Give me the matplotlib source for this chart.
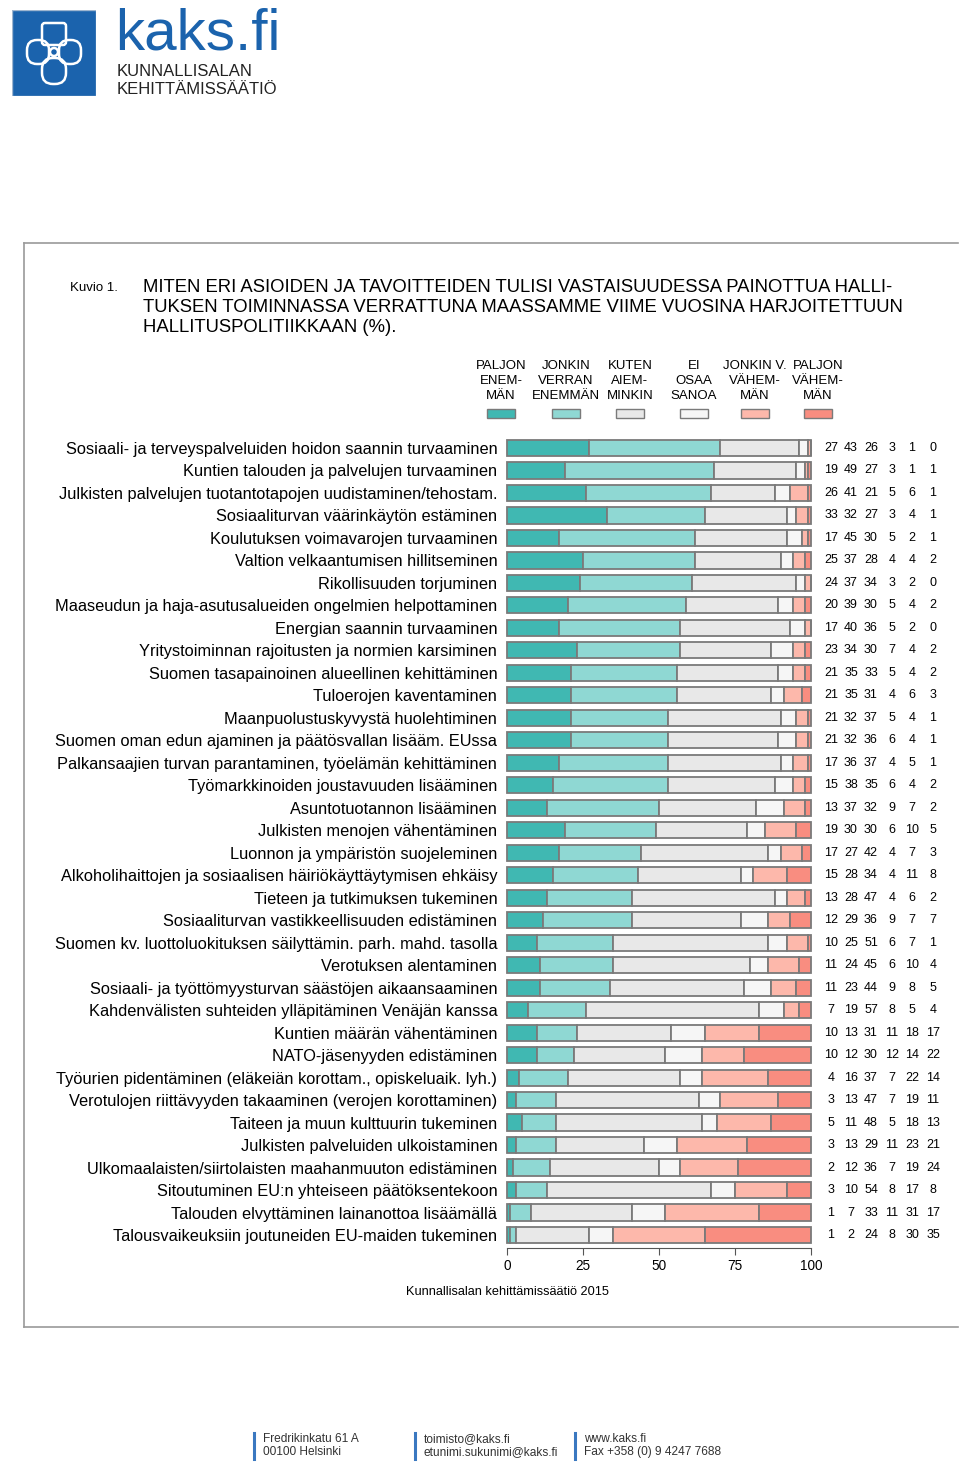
import numpy as np
import matplotlib
matplotlib.use("Agg")
from matplotlib import pyplot as plt
from matplotlib import font_manager
from matplotlib.patches import Rectangle, FancyBboxPatch, Circle
from matplotlib.lines import Line2D

# ---- data ----
categories = [
    "Sosiaali- ja terveyspalveluiden hoidon saannin turvaaminen",
    "Kuntien talouden ja palvelujen turvaaminen",
    "Julkisten palvelujen tuotantotapojen uudistaminen/tehostam.",
    "Sosiaaliturvan väärinkäytön estäminen",
    "Koulutuksen voimavarojen turvaaminen",
    "Valtion velkaantumisen hillitseminen",
    "Rikollisuuden torjuminen",
    "Maaseudun ja haja-asutusalueiden ongelmien helpottaminen",
    "Energian saannin turvaaminen",
    "Yritystoiminnan rajoitusten ja normien karsiminen",
    "Suomen tasapainoinen alueellinen kehittäminen",
    "Tuloerojen kaventaminen",
    "Maanpuolustuskyvystä huolehtiminen",
    "Suomen oman edun ajaminen ja päätösvallan lisääm. EUssa",
    "Palkansaajien turvan parantaminen, työelämän kehittäminen",
    "Työmarkkinoiden joustavuuden lisääminen",
    "Asuntotuotannon lisääminen",
    "Julkisten menojen vähentäminen",
    "Luonnon ja ympäristön suojeleminen",
    "Alkoholihaittojen ja sosiaalisen häiriökäyttäytymisen ehkäisy",
    "Tieteen ja tutkimuksen tukeminen",
    "Sosiaaliturvan vastikkeellisuuden edistäminen",
    "Suomen kv. luottoluokituksen säilyttämin. parh. mahd. tasolla",
    "Verotuksen alentaminen",
    "Sosiaali- ja työttömyysturvan säästöjen aikaansaaminen",
    "Kahdenvälisten suhteiden ylläpitäminen Venäjän kanssa",
    "Kuntien määrän vähentäminen",
    "NATO-jäsenyyden edistäminen",
    "Työurien pidentäminen (eläkeiän korottam., opiskeluaik. lyh.)",
    "Verotulojen riittävyyden takaaminen (verojen korottaminen)",
    "Taiteen ja muun kulttuurin tukeminen",
    "Julkisten palveluiden ulkoistaminen",
    "Ulkomaalaisten/siirtolaisten maahanmuuton edistäminen",
    "Sitoutuminen EU:n yhteiseen päätöksentekoon",
    "Talouden elvyttäminen lainanottoa lisäämällä",
    "Talousvaikeuksiin joutuneiden EU-maiden tukeminen",
]
paljon_enemman = [27, 19, 26, 33, 17, 25, 24, 20, 17, 23, 21, 21, 21, 21, 17, 15, 13, 19,
                  17, 15, 13, 12, 10, 11, 11, 7, 10, 10, 4, 3, 5, 3, 2, 3, 1, 1]
jonkin_enemman = [43, 49, 41, 32, 45, 37, 37, 39, 40, 34, 35, 35, 32, 32, 36, 38, 37, 30,
                  27, 28, 28, 29, 25, 24, 23, 19, 13, 12, 16, 13, 11, 13, 12, 10, 7, 2]
kuten_aiemmin = [26, 27, 21, 27, 30, 28, 34, 30, 36, 30, 33, 31, 37, 36, 37, 35, 32, 30,
                 42, 34, 47, 36, 51, 45, 44, 57, 31, 30, 37, 47, 48, 29, 36, 54, 33, 24]
ei_osaa = [3, 3, 5, 3, 5, 4, 3, 5, 5, 7, 5, 4, 5, 6, 4, 6, 9, 6,
           4, 4, 4, 9, 6, 6, 9, 8, 11, 12, 7, 7, 5, 11, 7, 8, 11, 8]
jonkin_vahemman = [1, 1, 6, 4, 2, 4, 2, 4, 2, 4, 4, 6, 4, 4, 5, 4, 7, 10,
                   7, 11, 6, 7, 7, 10, 8, 5, 18, 14, 22, 19, 18, 23, 19, 17, 31, 30]
paljon_vahemman = [0, 1, 1, 1, 1, 2, 0, 2, 0, 2, 2, 3, 1, 1, 1, 2, 2, 5,
                   3, 8, 2, 7, 1, 4, 5, 4, 17, 22, 14, 11, 13, 21, 24, 8, 17, 35]

series = [paljon_enemman, jonkin_enemman, kuten_aiemmin, ei_osaa, jonkin_vahemman, paljon_vahemman]
legend_labels = ["PALJON\nENEM-\nMÄN", "JONKIN\nVERRAN\nENEMMÄN", "KUTEN\nAIEM-\nMINKIN",
                 "EI\nOSAA\nSANOA", "JONKIN V.\nVÄHEM-\nMÄN", "PALJON\nVÄHEM-\nMÄN"]
colors = ["#40b8b2", "#8fd8d3", "#e8e8e8", "#f6f6f6", "#fdb8ab", "#f98d80"]
edge = "#7a7a7a"

W, H = 960, 1467
plt.rcParams['font.family'] = ['Liberation Sans', 'DejaVu Sans']
names = set(f.name for f in font_manager.fontManager.ttflist)
narrow = 'Liberation Sans Narrow' if 'Liberation Sans Narrow' in names else 'Liberation Sans'

fig = plt.figure(figsize=(W / 100, H / 100), dpi=100)


def fx(x):
    return x / W


def fy(y):
    return 1 - y / H


def ptext(x, y, s, **kw):
    fig.text(fx(x), fy(y), s, **kw)


# ---- frame ----
frame_col = "#9a9a9a"
for (x0, y0, x1, y1) in [(24, 243, 958, 243), (24, 243, 24, 1327), (24, 1327, 958, 1327)]:
    fig.add_artist(Line2D([fx(x0), fx(x1)], [fy(y0), fy(y1)], color=frame_col, lw=1.2))

# ---- title ----
ptext(70, 288, "Kuvio 1.", fontsize=9.5, family=narrow, va="center")
title_lines = ["MITEN ERI ASIOIDEN JA TAVOITTEIDEN TULISI VASTAISUUDESSA PAINOTTUA HALLI-",
               "TUKSEN TOIMINNASSA VERRATTUNA MAASSAMME VIIME VUOSINA HARJOITETTUUN",
               "HALLITUSPOLITIIKKAAN (%)."]
for i, t in enumerate(title_lines):
    ptext(143, 287 + i * 20.5, t, fontsize=13.3, family=narrow, va="center")

# ---- main bar axes ----
row_top, row_step = 448, (1235 - 448) / 35
n = len(categories)
ax_top = row_top - row_step / 2
ax_bot = row_top + (n - 1) * row_step + row_step / 2
ax = fig.add_axes([fx(507), fy(ax_bot), (811 - 507) / W, (ax_bot - ax_top) / H])
y = np.arange(n)
left = np.zeros(n)
for vals, c in zip(series, colors):
    vals = np.array(vals, dtype=float)
    ax.barh(y, vals, left=left, height=0.72, color=c, edgecolor=edge, linewidth=1.3, clip_on=False)
    left += vals
ax.set_xlim(0, 100)
ax.set_ylim(n - 0.5, -0.5)
ax.set_yticks(y)
ax.set_yticklabels(categories, fontsize=11.8)
ax.tick_params(axis="y", length=0, pad=7)
ax.set_xticks([0, 25, 50, 75, 100])
ax.tick_params(axis="x", labelsize=9.8, length=5, color="#555555", pad=3)
for s in ["top", "right", "left"]:
    ax.spines[s].set_visible(False)
ax.spines["bottom"].set_color("#555555")
ax.spines["bottom"].set_position(("outward", 1))
ax.patch.set_alpha(0)

# value columns on right
col_x = [831, 851, 871, 892, 912, 933]
for i in range(n):
    for j, vals in enumerate(series):
        ptext(col_x[j], row_top + i * row_step, str(vals[i]), fontsize=9,
              ha="center", va="center")

# ---- legend ----
leg_x = [501, 566, 630, 694, 755, 818]
for lx, lab, c in zip(leg_x, legend_labels, colors):
    ptext(lx, 381, lab, fontsize=9.5, ha="center", va="center", linespacing=1.32, family=narrow)
    fig.add_artist(Rectangle((fx(lx - 14), fy(418)), 28 / W, 9 / H, facecolor=c,
                             edgecolor=edge, lw=1.0, transform=fig.transFigure))

ptext(508, 1292, "Kunnallisalan kehittämissäätiö 2015", fontsize=9.2, ha="center", va="center")

# ---- logo ----
blue = "#1b63ad"
lax = fig.add_axes([fx(12), fy(96), 84 / W, 86 / H])
lax.set_xlim(0, 84)
lax.set_ylim(86, 0)
lax.axis("off")
lax.add_patch(Rectangle((0, 0), 84, 86, facecolor=blue, edgecolor="#9fb6d0", lw=1))
wk = dict(facecolor="none", edgecolor="white", lw=1.8)
lax.add_patch(FancyBboxPatch((30, 13), 24, 22, boxstyle="round,pad=0,rounding_size=3", **wk))
lax.add_patch(FancyBboxPatch((15, 30), 22, 24, boxstyle="round,pad=0,rounding_size=10", **wk))
lax.add_patch(FancyBboxPatch((47, 30), 22, 24, boxstyle="round,pad=0,rounding_size=10", **wk))
lax.add_patch(FancyBboxPatch((30, 48), 24, 26, boxstyle="round,pad=0,rounding_size=11", **wk))
lax.add_patch(Circle((42, 42), 4, **wk))

ptext(115, 35, "kaks.fi", fontsize=42, color=blue, va="center", family=narrow)
ptext(117, 72, "KUNNALLISALAN", fontsize=12, color="#222222", va="center", family=narrow)
ptext(117, 89, "KEHITTÄMISSÄÄTIÖ", fontsize=12, color="#222222", va="center", family=narrow)

# ---- footer ----
foot = [(254, "Fredrikinkatu 61 A", "00100 Helsinki"),
        (415, "toimisto@kaks.fi", "etunimi.sukunimi@kaks.fi"),
        (575, "www.kaks.fi", "Fax +358 (0) 9 4247 7688")]
for fx0, l1, l2 in foot:
    fig.add_artist(Line2D([fx(fx0), fx(fx0)], [fy(1433), fy(1459)], color="#3a78c0", lw=2.2))
    ptext(fx0 + 9, 1439, l1, fontsize=8.6, color="#333333", va="center", family=narrow)
    ptext(fx0 + 9, 1452, l2, fontsize=8.6, color="#333333", va="center", family=narrow)

fig.savefig("out.png", dpi=100)
